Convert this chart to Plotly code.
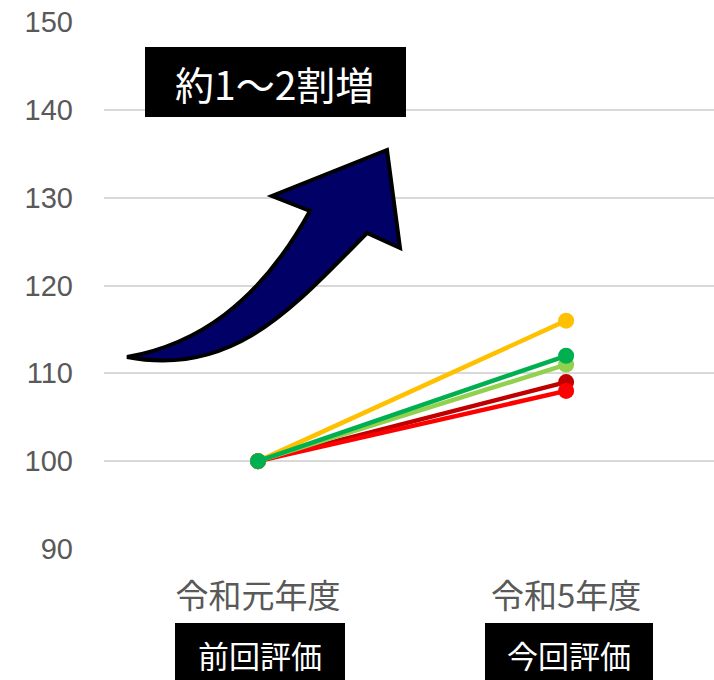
import plotly.graph_objects as go

# Survey years and index values (previous evaluation = 100)
years = ["令和元年度", "令和5年度"]
series_names = ["系列A", "系列B", "系列C", "系列D", "系列E"]
start_values = [100, 100, 100, 100, 100]
end_values = [116, 109, 108, 111, 112]
series_colors = ["#FFC000", "#C00000", "#FF0000", "#92D050", "#00B050"]

y_ticks = [90, 100, 110, 120, 130, 140, 150]
badge_labels = ["前回評価", "今回評価"]
headline = "約1～2割増"

W, H = 714, 680
L, R, T, B = 104, 714, 22, 549  # plot area in pixels

FONT = "Liberation Sans, Arial, Noto Sans CJK JP, sans-serif"
CJK = "Noto Sans CJK JP, sans-serif"


def px(x, y):
    """Pixel position -> paper coordinates."""
    return (x - L) / (R - L), (B - y) / (B - T)


fig = go.Figure()
for name, s, e, c in zip(series_names, start_values, end_values, series_colors):
    fig.add_trace(go.Scatter(
        x=years, y=[s, e], name=name, mode="lines+markers",
        line=dict(color=c, width=4.5),
        marker=dict(color=c, size=16),
        showlegend=False, cliponaxis=False,
    ))

# Curved rising arrow
arrow_pts = [
    ("M", 127, 357),
    ("C", 195, 345, 258, 305, 310, 211),
    ("L", 272, 196),
    ("L", 387, 150),
    ("L", 400, 248),
    ("L", 367, 233),
    ("C", 295, 305, 235, 378, 127, 357),
]
path = ""
for cmd, *coords in arrow_pts:
    pts = []
    for i in range(0, len(coords), 2):
        ax, ay = px(coords[i], coords[i + 1])
        pts.append(f"{ax:.5f},{ay:.5f}")
    path += cmd + " ".join(pts) + " "
path += "Z"
fig.add_shape(type="path", path=path, xref="paper", yref="paper",
              fillcolor="#000066", line=dict(color="black", width=4), layer="above")

# Headline box
x0, y0 = px(145, 47)
x1, y1 = px(406, 117)
fig.add_shape(type="rect", xref="paper", yref="paper", x0=x0, y0=y1, x1=x1, y1=y0,
              fillcolor="black", line=dict(width=0), layer="above")
cx, cy = px(274, 83)
fig.add_annotation(xref="paper", yref="paper", x=cx, y=cy, text=headline,
                   xanchor="center", yanchor="middle",
                   showarrow=False, font=dict(family=CJK, size=39, color="white"))

# Badges under the category labels
for label, (bx0, bx1) in zip(badge_labels, [(175, 345), (485, 653)]):
    a0, a1 = px(bx0, 623)
    b0, b1 = px(bx1, 682)
    fig.add_shape(type="rect", xref="paper", yref="paper", x0=a0, y0=b1, x1=b0, y1=a1,
                  fillcolor="black", line=dict(width=0), layer="above")
    tx, ty = px((bx0 + bx1) / 2, 654)
    fig.add_annotation(xref="paper", yref="paper", x=tx, y=ty, text=label,
                       xanchor="center", yanchor="middle",
                       showarrow=False, font=dict(family=CJK, size=31, color="white"))

fig.update_layout(
    width=W, height=H,
    margin=dict(l=L, r=W - R, t=T, b=H - B, pad=0),
    paper_bgcolor="white", plot_bgcolor="white",
    font=dict(family=FONT, color="#595959"),
    xaxis=dict(
        type="category", range=[-0.5, 1.48], showgrid=False, zeroline=False,
        showline=False, ticks="", tickfont=dict(family=CJK, size=33, color="#595959"),
        ticklabelstandoff=25,
    ),
    yaxis=dict(
        range=[90, 150], tickvals=y_ticks, showgrid=True, gridcolor="#D9D9D9",
        gridwidth=2, zeroline=False, showline=False, ticks="",
        tickfont=dict(family=FONT, size=29, color="#595959"),
        ticklabelstandoff=30,
    ),
)

fig.write_html("out.html")
